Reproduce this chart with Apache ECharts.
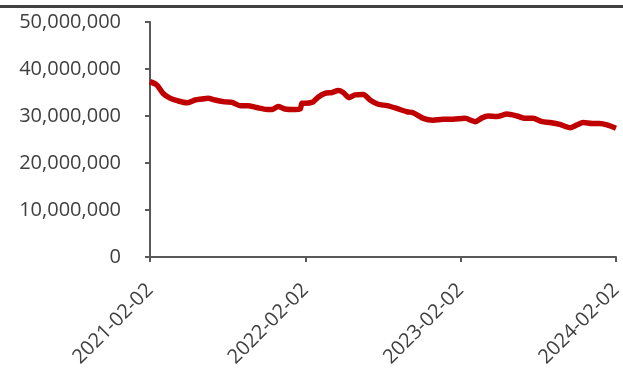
<!DOCTYPE html>
<html><head><meta charset="utf-8">
<script src="https://cdn.jsdelivr.net/npm/echarts@6/dist/echarts.min.js"></script>
<style>html,body{margin:0;padding:0;background:#fff}#c{width:623px;height:370px}</style>
</head><body><div id="c"></div>
<script>
// days since 2021-02-02
const dayIndex = [0,16,31,47,66,87,106,122,136,153,176,193,212,230,251,275,287,301,317,341,353,357,364,383,395,411,428,442,454,468,482,501,517,536,557,580,604,618,642,665,689,712,740,764,780,794,815,839,862,881,900,921,940,963,987,1003,1018,1039,1057,1074,1095];
const values = [37.3,36.6,34.8,33.8,33.2,32.8,33.4,33.6,33.8,33.4,33.0,32.9,32.2,32.2,31.8,31.4,31.4,32.0,31.5,31.4,31.5,32.7,32.7,33.0,34.0,34.8,35.0,35.4,35.0,33.9,34.5,34.6,33.4,32.5,32.2,31.6,30.9,30.7,29.5,29.1,29.3,29.3,29.5,28.8,29.6,30.0,29.9,30.4,30.0,29.5,29.5,28.8,28.6,28.2,27.5,28.1,28.6,28.4,28.4,28.1,27.4]; // millions
const xTickLabels = ['2021-02-02','2022-02-02','2023-02-02','2024-02-02'];
const yTicks = [0,10000000,20000000,30000000,40000000,50000000];

const chart = echarts.init(document.getElementById('c'));
const data = dayIndex.map((d,i)=>[d, values[i]*1e6]);
const font = '"Open Sans", "Noto Sans", sans-serif';
chart.setOption({
  animation:false,
  grid:{left:150,right:7,top:22,bottom:113,containLabel:false,outerBoundsMode:'none'},
  graphic:[{type:'rect',shape:{x:0,y:5,width:623,height:3},style:{fill:'#404040'}}],
  xAxis:{type:'value',min:0,max:1095,interval:365,
    axisLine:{lineStyle:{color:'#595959',width:2}},
    axisTick:{show:true,length:5,lineStyle:{color:'#595959',width:2}},
    splitLine:{show:false},
    axisLabel:{rotate:45,fontSize:20,color:'#404040',fontFamily:font,margin:30,
      formatter:v=>xTickLabels[Math.round(v/365)]||''}},
  yAxis:{type:'value',min:yTicks[0],max:yTicks[yTicks.length-1],interval:10000000,
    axisLine:{show:true,lineStyle:{color:'#595959',width:2}},
    axisTick:{show:true,length:5,lineStyle:{color:'#595959',width:2}},
    splitLine:{show:false},
    axisLabel:{fontSize:20,color:'#404040',fontFamily:font,margin:29,
      formatter:v=>v.toLocaleString('en-US')}},
  series:[{type:'line',data:data,showSymbol:false,smooth:0.25,
    lineStyle:{color:'#C00000',width:5.5},itemStyle:{color:'#C00000'}}]
});
</script></body></html>
